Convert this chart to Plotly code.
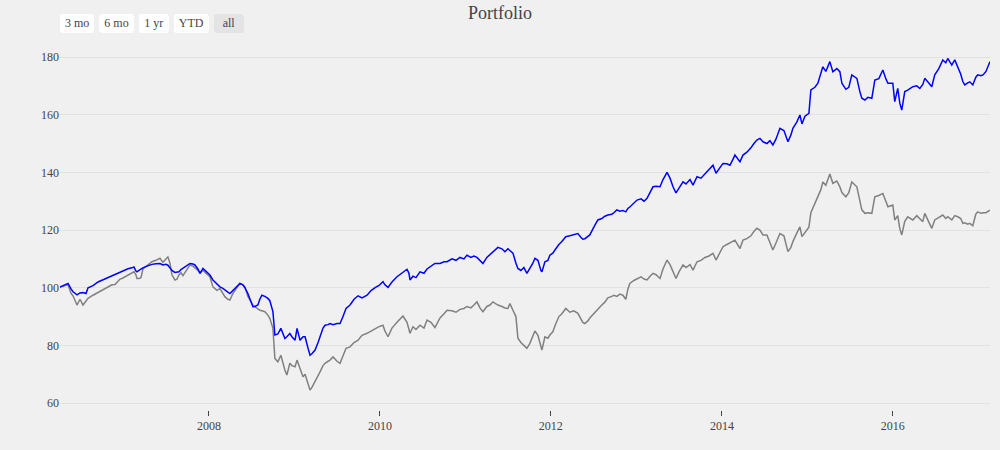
import plotly.graph_objects as go
from datetime import datetime, timedelta

# sample dates as decimal years
years = [
2006.257,2006.316,2006.351,2006.386,2006.409,2006.456,2006.491,2006.526,2006.561,2006.585,
2006.643,2006.702,2006.725,2006.784,2006.819,2006.865,2006.901,2006.924,2006.959,2006.982,
2007.018,2007.053,2007.099,2007.123,2007.146,2007.158,2007.181,2007.205,2007.228,2007.275,
2007.333,2007.380,2007.427,2007.462,2007.497,2007.520,2007.544,2007.567,2007.602,2007.626,
2007.649,2007.673,2007.696,2007.731,2007.778,2007.813,2007.836,2007.871,2007.895,2007.930,
2007.965,2007.988,2008.012,2008.047,2008.094,2008.129,2008.164,2008.187,2008.222,2008.246,
2008.281,2008.327,2008.363,2008.398,2008.421,2008.456,2008.480,2008.515,2008.538,2008.573,
2008.596,2008.620,2008.655,2008.690,2008.713,2008.749,2008.772,2008.807,2008.842,2008.889,
2008.912,2008.947,2008.971,2009.006,2009.029,2009.064,2009.099,2009.123,2009.158,2009.181,
2009.205,2009.240,2009.275,2009.298,2009.333,2009.357,2009.392,2009.415,2009.450,2009.497,
2009.532,2009.567,2009.602,2009.649,2009.696,2009.743,2009.789,2009.848,2009.895,2009.942,
2009.988,2010.035,2010.058,2010.094,2010.140,2010.199,2010.234,2010.269,2010.316,2010.339,
2010.351,2010.386,2010.421,2010.468,2010.515,2010.550,2010.596,2010.643,2010.702,2010.749,
2010.784,2010.842,2010.889,2010.936,2010.982,2011.018,2011.064,2011.099,2011.135,2011.170,
2011.205,2011.251,2011.287,2011.322,2011.380,2011.427,2011.462,2011.497,2011.520,2011.556,
2011.591,2011.614,2011.649,2011.684,2011.719,2011.754,2011.789,2011.813,2011.848,2011.883,
2011.895,2011.930,2011.965,2011.988,2012.023,2012.058,2012.094,2012.129,2012.175,2012.222,
2012.269,2012.316,2012.351,2012.374,2012.398,2012.433,2012.456,2012.503,2012.550,2012.596,
2012.632,2012.667,2012.713,2012.737,2012.772,2012.807,2012.842,2012.877,2012.901,2012.924,
2012.971,2013.006,2013.053,2013.088,2013.123,2013.158,2013.193,2013.228,2013.275,2013.310,
2013.357,2013.392,2013.427,2013.462,2013.497,2013.544,2013.579,2013.626,2013.661,2013.708,
2013.754,2013.801,2013.848,2013.895,2013.930,2013.977,2014.012,2014.058,2014.094,2014.129,
2014.152,2014.211,2014.246,2014.292,2014.339,2014.374,2014.409,2014.444,2014.480,2014.526,
2014.561,2014.596,2014.632,2014.678,2014.725,2014.772,2014.807,2014.830,2014.877,2014.912,
2014.936,2014.971,2014.994,2015.018,2015.041,2015.088,2015.123,2015.158,2015.181,2015.216,
2015.263,2015.298,2015.345,2015.380,2015.404,2015.450,2015.485,2015.520,2015.579,2015.614,
2015.637,2015.673,2015.708,2015.754,2015.789,2015.836,2015.883,2015.918,2015.942,2016.000,
2016.023,2016.058,2016.082,2016.105,2016.140,2016.175,2016.234,2016.281,2016.316,2016.351,
2016.374,2016.421,2016.456,2016.491,2016.538,2016.585,2016.620,2016.643,2016.690,2016.725,
2016.760,2016.795,2016.819,2016.842,2016.877,2016.901,2016.936,2016.971,2016.994,2017.029,
2017.053,2017.088,2017.135]

portfolio = [
100.2,100.9,101.5,99.6,98.6,97.5,98.2,98.3,98.0,100.0,
100.7,102.0,102.3,103.2,103.6,104.1,104.8,105.0,105.5,105.8,
106.1,106.6,106.9,107.2,105.8,105.5,106.0,106.5,106.9,107.5,
108.1,108.3,108.4,107.9,108.1,107.8,106.7,106.0,105.3,105.4,
105.5,106.3,106.7,107.5,108.4,108.2,107.9,106.5,105.0,106.7,
105.8,105.0,104.4,102.7,101.5,100.3,99.8,99.4,98.5,98.0,
99.1,100.5,101.5,101.0,100.0,98.0,96.0,93.4,93.5,94.0,
96.0,97.4,97.0,96.3,95.5,91.7,83.6,84.0,85.9,82.4,
83.0,84.1,83.0,81.8,85.9,81.8,83.0,83.0,79.0,76.6,
77.2,78.4,81.0,83.0,86.0,87.0,87.2,87.6,87.2,87.6,
87.6,90.0,92.8,94.0,96.0,97.2,96.5,97.4,99.0,100.0,
100.8,102.1,101.0,100.1,102.0,103.8,104.5,105.5,106.4,105.0,
102.7,104.0,103.5,105.5,105.0,106.5,107.3,108.4,108.4,109.0,
109.0,110.0,109.5,110.5,110.0,111.3,110.5,111.0,110.5,109.5,
108.4,110.5,111.5,112.5,114.0,113.5,112.5,113.5,113.0,112.0,
108.5,106.7,106.0,107.0,105.0,106.7,108.5,110.2,109.5,106.0,
105.5,109.0,109.5,111.3,112.0,113.5,115.0,116.0,117.7,118.0,
118.5,118.8,117.5,116.8,117.0,118.0,118.3,121.0,123.5,124.0,
124.8,125.2,125.5,126.0,127.0,126.5,126.8,126.3,127.5,128.0,
129.5,130.4,130.8,130.0,131.0,133.0,135.0,135.2,135.0,137.5,
140.0,138.0,135.0,132.9,134.5,136.7,136.0,137.5,135.6,138.5,
138.0,139.5,141.0,142.5,139.7,141.5,143.1,143.0,142.5,144.5,
146.0,143.7,146.0,147.0,148.5,150.0,151.2,151.8,150.6,150.0,
151.0,149.5,151.5,155.3,154.5,150.6,153.0,155.3,157.5,159.9,
156.8,159.5,159.9,160.5,168.6,169.5,170.9,174.0,176.6,175.0,
178.4,174.9,176.0,174.9,170.9,168.8,169.5,173.8,172.6,168.0,
165.7,165.1,166.0,165.7,172.0,172.5,175.5,172.5,170.9,170.9,
164.5,169.1,164.0,161.6,168.0,168.5,169.7,170.0,169.1,170.5,
172.6,171.0,169.7,173.8,176.0,179.0,178.0,179.5,177.2,179.0,
176.6,174.0,171.5,170.3,171.0,171.4,170.3,173.0,173.8,173.5,
173.8,175.0,178.4]

benchmark = [
100.2,100.6,101.0,98.0,97.2,94.0,96.0,94.0,95.5,96.3,
97.4,98.4,98.6,99.8,100.3,101.0,101.1,102.0,103.0,103.2,
103.8,104.4,105.0,105.5,104.5,103.2,103.2,103.5,106.5,107.5,
109.0,109.5,110.2,108.8,109.8,110.7,108.5,104.5,102.7,103.0,
104.4,105.2,104.2,106.0,107.9,107.5,106.9,106.0,105.0,106.1,
105.0,104.5,103.8,100.3,99.1,99.7,98.0,96.9,96.0,95.7,
98.0,100.0,101.5,101.0,100.3,97.0,95.7,94.0,93.4,92.5,
92.2,92.0,91.7,90.5,89.4,85.9,75.5,74.3,76.6,71.5,
69.7,73.8,73.0,72.6,74.9,72.0,69.1,70.0,67.0,64.5,
65.5,67.4,69.5,70.8,73.0,73.8,74.5,74.9,76.0,74.5,
73.8,76.5,79.0,79.5,81.0,81.8,83.5,84.2,85.0,86.0,
86.5,87.0,85.0,83.0,86.0,88.0,89.0,90.2,88.0,85.0,
84.2,86.5,85.5,87.0,86.0,88.8,88.0,86.2,89.5,91.0,
92.2,92.0,91.5,92.5,92.8,93.5,93.0,94.0,95.1,93.0,
91.7,93.5,94.0,95.1,94.0,93.5,93.0,92.8,94.5,92.2,
90.0,82.5,81.0,80.0,79.0,80.7,83.5,85.0,83.5,79.0,
78.4,83.0,82.5,83.6,84.7,87.5,90.0,91.0,92.8,91.5,
92.0,91.1,89.0,88.0,87.6,88.5,89.5,91.0,92.8,94.0,
95.0,96.5,97.0,97.4,97.0,97.8,97.4,96.0,99.5,101.5,
102.5,103.0,103.8,103.0,102.7,104.0,105.0,104.5,103.2,106.5,
109.6,108.0,105.5,103.2,105.5,107.9,107.0,108.0,106.1,109.0,
109.5,110.5,111.0,111.9,109.6,112.5,114.2,115.0,115.5,116.0,
116.5,113.6,116.5,117.0,118.0,119.5,120.6,120.0,118.3,118.3,
116.0,113.1,115.5,118.8,118.0,112.5,114.0,116.0,119.0,121.1,
117.7,119.0,120.0,121.0,126.0,129.0,131.5,134.0,136.7,135.5,
139.4,136.2,137.0,135.0,133.0,131.5,133.0,136.7,135.0,130.0,
127.0,125.8,126.0,125.8,131.5,132.0,132.7,130.0,128.1,128.7,
123.5,125.0,120.5,118.3,123.0,124.6,123.5,125.0,124.0,122.9,
125.8,123.0,120.6,123.5,124.5,125.2,124.0,124.6,123.5,125.0,
124.6,124.0,122.3,122.5,122.0,122.3,121.5,125.5,126.3,125.8,
126.0,126.0,126.9]


def to_date(y):
    base = datetime(int(y), 1, 1)
    return base + timedelta(days=(y - int(y)) * 365.25)


dates = [to_date(y) for y in years]

fig = go.Figure()
fig.add_trace(go.Scatter(x=dates, y=benchmark, mode="lines",
                         line=dict(color="gray", width=1.5), name="Benchmark"))
fig.add_trace(go.Scatter(x=dates, y=portfolio, mode="lines",
                         line=dict(color="blue", width=1.5), name="Portfolio"))

fig.update_layout(
    template="none",
    width=1000, height=450,
    title=dict(text="Portfolio", x=0.5, xanchor="center", y=0.986, yanchor="top",
               font=dict(size=18, color="#444", family="Liberation Serif")),
    font=dict(family="Liberation Serif", size=12, color="#444"),
    paper_bgcolor="#f0f0f0", plot_bgcolor="#f0f0f0",
    showlegend=False,
    margin=dict(l=60, r=10, t=40, b=40),
    xaxis=dict(
        showgrid=False, zeroline=False, showline=False,
        ticks="outside", ticklen=5, tickwidth=1, tickcolor="#444",
        tickfont=dict(family="Liberation Serif", size=12, color="#444"),
        rangeselector=dict(
            buttons=[
                dict(count=3, label="3 mo", step="month", stepmode="backward"),
                dict(count=6, label="6 mo", step="month", stepmode="backward"),
                dict(count=1, label="1 yr", step="year", stepmode="backward"),
                dict(count=1, label="YTD", step="year", stepmode="todate"),
                dict(label="all", step="all"),
            ],
            bgcolor="white", activecolor="#e4e4e4",
            font=dict(size=12, color="#444", family="Liberation Serif"),
        ),
    ),
    yaxis=dict(range=[57.6, 185.9], showgrid=True, gridcolor="#e2e2e2", gridwidth=1,
               zeroline=False, showline=False, ticks="", dtick=20,
               tickfont=dict(family="Liberation Serif", size=12, color="#444")),
)

fig.write_html(
    "out.html",
    config={"displayModeBar": False},
    post_script="document.body.style.margin='0';document.body.style.background='#f0f0f0';",
)
